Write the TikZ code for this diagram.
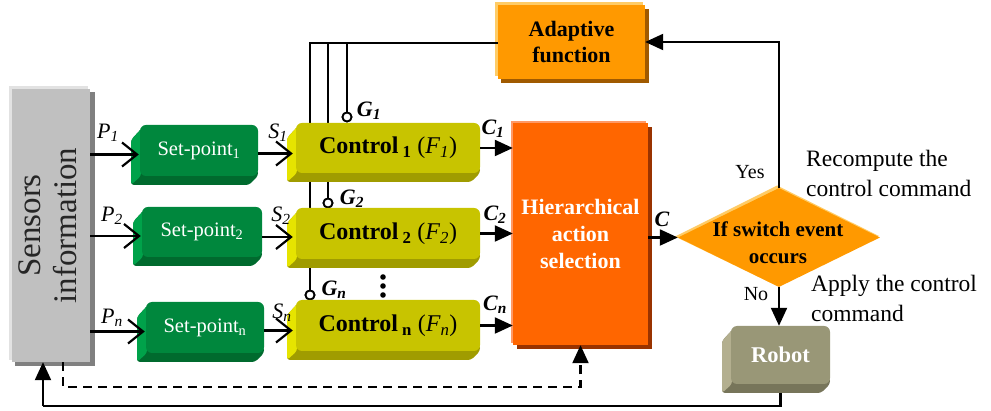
\documentclass[tikz,border=0pt]{standalone}
\usepackage{fontspec}
\setmainfont{Liberation Serif}
\usetikzlibrary{arrows.meta,shapes.geometric,backgrounds,calc}
\definecolor{gfront}{HTML}{00873D}
\definecolor{gside}{HTML}{00A24A}
\definecolor{gbot}{HTML}{006A2E}
\definecolor{yfront}{HTML}{C8C400}
\definecolor{yside}{HTML}{E6E400}
\definecolor{ybot}{HTML}{A09C00}
\definecolor{rfront}{HTML}{999777}
\definecolor{rside}{HTML}{B3AF8F}
\definecolor{rbot}{HTML}{77755A}
\definecolor{sgray}{HTML}{C0C0C0}
\definecolor{sgrayL}{HTML}{E2E2E2}
\definecolor{sgrayD}{HTML}{808080}
\definecolor{hor}{HTML}{FF6600}
\definecolor{horL}{HTML}{FF9966}
\definecolor{horD}{HTML}{993300}
\definecolor{aor}{HTML}{FF9900}
\definecolor{aorL}{HTML}{FFCC66}
\definecolor{aorD}{HTML}{A05A00}
\newcommand\bevelsides[6]{%
  \fill[#6,rounded corners=3pt] ({#1+2},{#2+3}) -- ({#1-9},{#2+15}) -- ({#1-9},{#4+9}) -- ({#3-9},{#4+9}) -- ({#3},{#4}) -- ({#3},{#4-6}) -- cycle;
  \fill[#5,rounded corners=3pt] ({#1+2},{#2+3}) -- ({#1-9},{#2+15}) -- ({#1-9},{#4+9}) -- ({#1+1},{#4}) -- cycle;
}
\tikzset{
  conn/.style={line width=2.2pt},
  farrow/.style={conn,-{Triangle[length=18pt,width=16pt]}},
  oarrow/.style={conn,-{Straight Barb[length=15pt,width=24pt]}},
  bev/.style={rounded corners=6pt,inner sep=0pt},
  spbox/.style={bev,fill=gfront,text=white,font=\fontsize{20.5}{24}\selectfont},
  ctbox/.style={bev,fill=yfront,text=black,font=\fontsize{24}{28}\selectfont},
  lab/.style={font=\fontsize{22}{24}\selectfont,inner sep=0pt},
  txt/.style={font=\fontsize{23.5}{30}\selectfont,align=left,inner sep=0pt},
  gcirc/.style={circle,draw,line width=1.8pt,fill=white,minimum size=9pt,inner sep=0pt},
}
\begin{document}
\begin{tikzpicture}[x=1pt,y=-1pt]
\useasboundingbox (0,0) rectangle (991,411);

% sensors box
\fill[sgrayD] (15,92) rectangle (95,366);
\fill[sgrayL] (9,86) rectangle (88,360);
\node[fill=sgray,minimum width=78pt,minimum height=273pt,inner sep=0pt] (sens) at (51,225.5) {};
\node[rotate=90,align=center,font=\fontsize{33}{36}\selectfont,text=black!85] at (48,225.5) {Sensors\\information};

% set-point boxes
\bevelsides{140}{125}{258}{176}{gside}{gbot}
\node[spbox,minimum width=118pt,minimum height=51pt] (sp1) at (199,150.5) {Set-point\textsubscript{1}};
\bevelsides{142}{207}{262}{257}{gside}{gbot}
\node[spbox,minimum width=120pt,minimum height=50pt] (sp2) at (202,232) {Set-point\textsubscript{2}};
\bevelsides{146}{302}{264}{353}{gside}{gbot}
\node[spbox,minimum width=118pt,minimum height=51pt] (spn) at (205,327.5) {Set-point\textsubscript{n}};

% adaptive function
\fill[aorD] (501,9) rectangle (649,83);
\fill[aorL] (495,2) rectangle (643,76);
\node[fill=aor,minimum width=147pt,minimum height=74pt,inner sep=0pt,align=center,font=\bfseries\fontsize{22}{26}\selectfont] (adapt) at (571.5,42) {Adaptive\\function};

% G circles and lines (lines go behind control boxes)
\node[gcirc] (g1) at (347,117) {};
\node[gcirc] (g2) at (328,203) {};
\node[gcirc] (gn) at (310,295) {};
\coordinate (top) at (310,43);
\draw[conn] (adapt.west |- top) -- (top) -- (gn.north);
\draw[conn] (g2.north |- top) -- (g2.north);
\draw[conn] (g1.north |- top) -- (g1.north);
\node[gcirc] at (g1) {};
\node[gcirc] at (g2) {};
\node[gcirc] at (gn) {};

% control boxes
\bevelsides{296}{123}{480}{173}{yside}{ybot}
\node[ctbox,minimum width=184pt,minimum height=50pt] (c1) at (388,148) {\textbf{Control\,\textsubscript{1}} (\textit{F\textsubscript{1}})};
\bevelsides{296}{208}{480}{259}{yside}{ybot}
\node[ctbox,minimum width=184pt,minimum height=51pt] (c2) at (388,233.5) {\textbf{Control\,\textsubscript{2}} (\textit{F\textsubscript{2}})};
\bevelsides{296}{300}{480}{351}{yside}{ybot}
\node[ctbox,minimum width=184pt,minimum height=51pt] (cn) at (388,325.5) {\textbf{Control\,\textsubscript{n}} (\textit{F\textsubscript{n}})};

% hierarchical action selection
\fill[horD] (517,127) rectangle (652,349);
\fill[horL] (511,121) rectangle (646,343);
\node[fill=hor,minimum width=135pt,minimum height=222pt,inner sep=0pt,align=center,text=white,font=\bfseries\fontsize{22}{27}\selectfont] (hier) at (580.5,234) {Hierarchical\\action\\selection};

% decision diamond
\fill[aorL] (675,236.5) -- (777,185.5) -- (879,236) -- (777,286) -- cycle;
\node[diamond,fill=aor,minimum width=202pt,minimum height=99pt,inner sep=0pt] (dia) at (779,237.5) {};
\node[align=center,font=\bfseries\fontsize{21}{27}\selectfont] at (778,243) {If switch event\\occurs};

% robot
\bevelsides{731}{326}{830}{384}{rside}{rbot}
\node[bev,fill=rfront,minimum width=99pt,minimum height=58pt,text=white,font=\bfseries\fontsize{22.5}{26}\selectfont] (robot) at (780.5,355) {Robot};

% feedback lines
\begin{pgfonlayer}{background}
\coordinate (fb) at (43,406);
\draw[conn] (robot.south) |- (fb);
\end{pgfonlayer}
\draw[farrow] (fb) -- (fb |- sens.south);
\coordinate (db) at (63,387);
\draw[farrow,dash pattern=on 9pt off 6pt] (db |- sens.south) -- (db) -- (db -| hier.south) -- (hier.south);

% P arrows
\foreach \s in {sp1,sp2,spn}{
  \coordinate (a\s) at ($(\s.west)+(-1,4)$);
  \draw[oarrow] (a\s -| sens.east) -- (a\s);
}
% S arrows
\coordinate (b1) at ($(sp1.east)+(0,3)$);
\draw[oarrow] (b1) -- ($(b1 -| c1.west)+(-3,0)$);
\coordinate (b2) at ($(sp2.east)+(0,5)$);
\draw[oarrow] (b2) -- ($(b2 -| c2.west)+(-3,0)$);
\coordinate (bn) at ($(spn.east)+(0,3)$);
\draw[oarrow] (bn) -- ($(bn -| cn.west)+(-3,0)$);

% C arrows
\draw[farrow] (c1.east) -- (c1.east -| hier.west);
\draw[farrow] (c2.east) -- (c2.east -| hier.west);
\draw[farrow] (cn.east) -- (cn.east -| hier.west);
\draw[farrow] (dia.west -| hier.east) -- (dia.west);
\draw[farrow] (dia.north) |- (adapt.east);
\draw[farrow] (dia.south) -- (dia.south |- robot.north);

% dots
\fill (383,277) circle (2.8);
\fill (383,286) circle (2.8);
\fill (383,295) circle (2.8);

% labels
\node[lab] at (108,133) {\textit{P\textsubscript{1}}};
\node[lab] at (112,216) {\textit{P\textsubscript{2}}};
\node[lab] at (112,318) {\textit{P\textsubscript{n}}};
\node[lab] at (278,133) {\textit{S\textsubscript{1}}};
\node[lab] at (281,216) {\textit{S\textsubscript{2}}};
\node[lab] at (282,313) {\textit{S\textsubscript{n}}};
\node[lab] at (369,111) {\textbf{\textit{G\textsubscript{1}}}};
\node[lab] at (352,199) {\textbf{\textit{G\textsubscript{2}}}};
\node[lab] at (334,290) {\textbf{\textit{G\textsubscript{n}}}};
\node[lab] at (493,129) {\textbf{\textit{C\textsubscript{1}}}};
\node[lab] at (495,215) {\textbf{\textit{C\textsubscript{2}}}};
\node[lab] at (495,305) {\textbf{\textit{C\textsubscript{n}}}};
\node[lab] at (662,219) {\textbf{\textit{C}}};
\node[lab,font=\fontsize{20}{24}\selectfont] at (750,172) {Yes};
\node[lab,font=\fontsize{20}{24}\selectfont] at (756,294) {No};
\node[txt,anchor=west] at (806,173) {Recompute the\\control command};
\node[txt,anchor=west] at (811,298.5) {Apply the control\\command};
\end{tikzpicture}
\end{document}
